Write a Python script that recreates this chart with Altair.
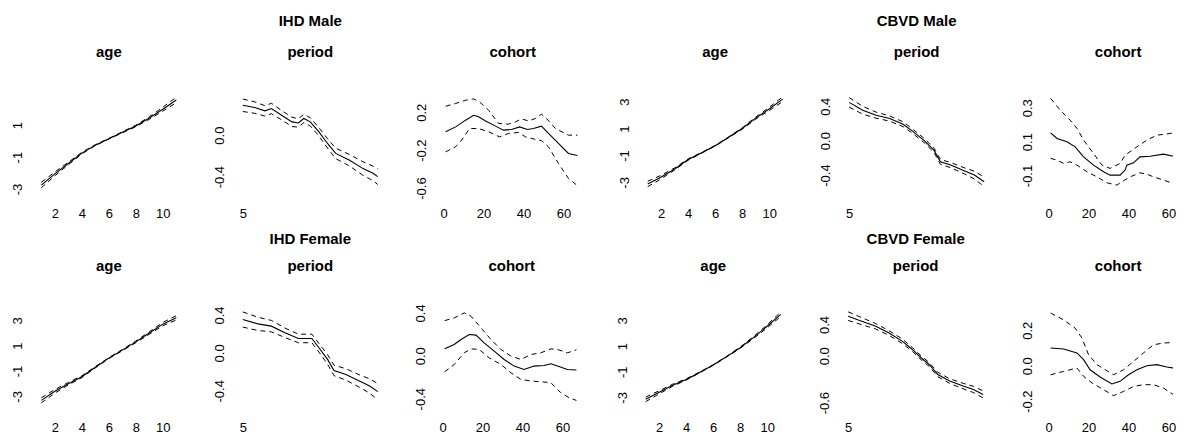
import altair as alt
import pandas as pd

FONT = "Liberation Sans"
MINUS = "replace(datum.label, '\u2212', '-')"

# ---------------- data ----------------
ages = [1, 2, 3, 4, 5, 6, 7, 8, 9, 10, 11]

# IHD Male
ihdm_age_est = [-2.75, -2.05, -1.4, -0.75, -0.25, 0.15, 0.55, 0.95, 1.45, 2.0, 2.58]
ihdm_age_hw = [0.17, 0.12, 0.08, 0.05, 0.03, 0.02, 0.03, 0.05, 0.08, 0.12, 0.17]
ihdm_per_x = [5, 7.2, 9.1, 10.3, 12.2, 14.1, 15.3, 16.3, 17.5, 19.1, 20.7, 22.2, 24.7, 27.2, 29.1, 30]
ihdm_per_est = [0.288, 0.266, 0.234, 0.257, 0.192, 0.128, 0.118, 0.161, 0.128, 0.032, -0.08, -0.176, -0.24, -0.32, -0.368, -0.40]
ihdm_per_hw = [0.06, 0.055, 0.05, 0.05, 0.045, 0.045, 0.04, 0.04, 0.04, 0.04, 0.045, 0.05, 0.055, 0.065, 0.07, 0.075]
ihdm_coh_x = [1, 6, 11, 15, 17.5, 21, 26, 30, 34, 38, 42, 45, 49, 52.5, 57.5, 62.5, 67]
ihdm_coh_est = [-0.007, 0.045, 0.116, 0.168, 0.151, 0.108, 0.053, 0.011, 0.018, 0.045, 0.018, 0.028, 0.053, -0.024, -0.129, -0.235, -0.256]
ihdm_coh_up_x = [1, 6, 11, 15, 18, 22.5, 27.5, 32.5, 36, 39, 42.5, 46, 49, 51.5, 56, 62.5, 67]
ihdm_coh_up = [0.263, 0.292, 0.326, 0.34, 0.308, 0.221, 0.081, 0.074, 0.098, 0.129, 0.108, 0.134, 0.179, 0.134, 0.028, -0.042, -0.042]
ihdm_coh_lo_x = [1, 6, 9, 13, 17.5, 22.5, 28, 32.5, 37.5, 41, 46, 49, 52.5, 57.5, 62.5, 67]
ihdm_coh_lo = [-0.218, -0.165, -0.095, 0.028, 0.028, -0.007, -0.06, -0.024, -0.014, -0.06, -0.087, -0.1, -0.165, -0.34, -0.498, -0.575]

# CBVD Male
cbvm_age_est = [-3.12, -2.6, -2.0, -1.3, -0.8, -0.28, 0.35, 1.0, 1.77, 2.45, 3.18]
cbvm_age_hw = [0.2, 0.13, 0.08, 0.05, 0.03, 0.02, 0.03, 0.05, 0.08, 0.12, 0.18]
cbvm_per_x = [5, 7.5, 10, 12.5, 15, 16.9, 18.8, 20.7, 21.9, 23.8, 26.3, 28.2, 30]
cbvm_per_est = [0.445, 0.354, 0.296, 0.257, 0.191, 0.102, 0.006, -0.11, -0.246, -0.284, -0.35, -0.4, -0.478]
cbvm_per_hw = [0.055, 0.045, 0.035, 0.03, 0.028, 0.025, 0.025, 0.025, 0.028, 0.03, 0.035, 0.045, 0.055]
cbvm_coh_x = [1, 4.2, 9.2, 13.3, 17.5, 22.5, 27.5, 30.8, 35.8, 38.3, 39.2, 42.5, 45.8, 50.8, 57.5, 62.5, 67]
cbvm_coh_est = [0.152, 0.119, 0.099, 0.069, 0.01, -0.039, -0.078, -0.098, -0.098, -0.068, -0.039, -0.025, 0.01, 0.014, 0.026, 0.014, 0.014]
cbvm_coh_up_x = [1, 5.8, 10.8, 14.2, 17.5, 22.5, 26.7, 30.8, 35.8, 38.3, 44.2, 49.2, 54.2, 60.8, 67]
cbvm_coh_up = [0.355, 0.286, 0.227, 0.178, 0.109, 0.03, -0.039, -0.058, -0.029, 0.02, 0.069, 0.109, 0.138, 0.148, 0.158]
cbvm_coh_lo_x = [1, 4.2, 7.5, 10.8, 14.2, 19.2, 24.2, 29.2, 34.2, 36.7, 40.8, 45.8, 49.2, 52.5, 57.5, 62.5, 67]
cbvm_coh_lo = [0.001, -0.009, -0.029, -0.019, -0.039, -0.078, -0.108, -0.143, -0.157, -0.137, -0.108, -0.084, -0.092, -0.108, -0.127, -0.147, -0.167]

# IHD Female
ihdf_age_est = [-3.31, -2.6, -2.0, -1.45, -0.7, 0.02, 0.65, 1.3, 2.0, 2.7, 3.2]
ihdf_age_hw = [0.2, 0.14, 0.1, 0.07, 0.05, 0.04, 0.05, 0.07, 0.1, 0.13, 0.17]
ihdf_per_x = [5, 7.8, 10.3, 12.8, 15.3, 17.8, 19.1, 20.7, 21.9, 24.1, 26.6, 28.5, 30]
ihdf_per_est = [0.352, 0.306, 0.282, 0.212, 0.152, 0.152, 0.054, -0.069, -0.185, -0.227, -0.297, -0.349, -0.409]
ihdf_per_hw = [0.08, 0.07, 0.06, 0.05, 0.045, 0.045, 0.045, 0.05, 0.055, 0.06, 0.065, 0.075, 0.085]
ihdf_coh_x = [1, 5.8, 9.2, 13.3, 16.7, 20.8, 25.8, 30.8, 35.8, 40.8, 45.8, 50.8, 54.2, 57.5, 62.5, 67]
ihdf_coh_est = [0.065, 0.105, 0.152, 0.198, 0.193, 0.121, 0.044, -0.034, -0.096, -0.127, -0.096, -0.09, -0.074, -0.096, -0.127, -0.133]
ihdf_coh_up_x = [1, 5.8, 10.8, 14.2, 19.2, 24.2, 29.2, 34.2, 39.2, 44.2, 49.2, 54.2, 57.5, 62.5, 67]
ihdf_coh_up = [0.328, 0.353, 0.4, 0.369, 0.26, 0.152, 0.059, -0.003, -0.034, 0.012, 0.028, 0.065, 0.059, 0.028, 0.056]
ihdf_coh_lo_x = [1, 5.8, 10.8, 14.2, 18.3, 23.3, 29.2, 34.2, 39.2, 44.2, 49.2, 54.2, 59.2, 63.3, 67]
ihdf_coh_lo = [-0.149, -0.081, 0.028, 0.065, 0.059, -0.019, -0.081, -0.158, -0.22, -0.235, -0.242, -0.251, -0.344, -0.391, -0.416]

# CBVD Female
cbvf_age_est = [-3.15, -2.6, -2.05, -1.6, -1.05, -0.47, 0.18, 0.88, 1.68, 2.55, 3.48]
cbvf_age_hw = [0.18, 0.12, 0.08, 0.05, 0.03, 0.02, 0.03, 0.05, 0.08, 0.12, 0.17]
cbvf_per_x = [5, 7.5, 10, 12.5, 15, 16.9, 18.5, 20, 21.6, 23.8, 26.3, 28.2, 30]
cbvf_per_est = [0.507, 0.443, 0.38, 0.294, 0.188, 0.081, -0.025, -0.111, -0.239, -0.323, -0.387, -0.43, -0.494]
cbvf_per_hw = [0.055, 0.045, 0.035, 0.03, 0.028, 0.025, 0.025, 0.025, 0.028, 0.03, 0.035, 0.04, 0.045]
cbvf_coh_x = [1, 7.5, 14.2, 17.5, 20.8, 25.8, 31.7, 35.8, 40, 44.2, 49.2, 54.2, 59.2, 65.8, 67]
cbvf_coh_est = [0.1, 0.094, 0.072, 0.034, -0.023, -0.064, -0.103, -0.088, -0.051, -0.023, 0.0, 0.006, -0.007, -0.019, -0.02]
cbvf_coh_up_x = [1, 7.5, 13.3, 16.7, 20, 24.2, 32.5, 37.5, 42.5, 47.5, 52.5, 57.5, 62.5, 67]
cbvf_coh_up = [0.297, 0.259, 0.212, 0.156, 0.062, 0.006, -0.051, -0.023, 0.024, 0.072, 0.118, 0.128, 0.131, 0.15]
cbvf_coh_lo_x = [1, 7.5, 14.2, 17.5, 21.7, 27.5, 32.5, 37.5, 42.5, 47.5, 52.5, 57.5, 62.5, 67]
cbvf_coh_lo = [-0.051, -0.032, -0.013, -0.06, -0.097, -0.135, -0.169, -0.145, -0.117, -0.107, -0.107, -0.126, -0.163, -0.2]

# tick labels
age_ticks = [2, 4, 6, 8, 10]
per_ticks = [5]
coh_ticks = [0, 20, 40, 60]

# ---------------- layout ----------------
PW, PH = 146, 95
AGE_DOM = [0.6, 11.4]
PER_DOM = [4, 31]
COH_DOM = [-1.9, 71.1]
W6 = 128                      # last column is cut at the page edge, as in the reference
COH_DOM6 = [-1.7, 62.3]
TITLE_Y = -38


def frame(xs, ys, kind):
    return pd.DataFrame({"x": xs, "y": ys, "kind": kind})


def band(xs, est, hw):
    up = [round(e + h, 4) for e, h in zip(est, hw)]
    lo = [round(e - h, 4) for e, h in zip(est, hw)]
    return xs, up, xs, lo


def text_layer(s, y):
    return alt.Chart(pd.DataFrame({"t": [s]})).mark_text(
        font=FONT, fontSize=15, fontWeight="bold", color="black",
        align="center", baseline="alphabetic"
    ).encode(text="t:N", x=alt.value(PW / 2), y=alt.value(y))


def panel(ex, ey, ux, uy, lx, ly, xdom, ydom, xticks, yticks, yfmt,
          title, group=None, group_y=-69, width=PW):
    df = pd.concat([frame(ex, ey, "est"), frame(ux, uy, "upper"),
                    frame(lx, ly, "lower")], ignore_index=True)
    xenc = alt.X("x:Q", scale=alt.Scale(domain=xdom, nice=False, zero=False),
                 axis=alt.Axis(values=xticks, format="d", title=None, domain=False,
                               ticks=False, tickSize=0, grid=False, labelPadding=17,
                               labelFlush=False, labelOverlap=False, labelExpr=MINUS))
    yenc = alt.Y("y:Q", scale=alt.Scale(domain=ydom, nice=False, zero=False),
                 axis=alt.Axis(values=yticks, format=yfmt, title=None, domain=False,
                               ticks=False, tickSize=0, grid=False, labelAngle=270,
                               labelAlign="center", labelBaseline="alphabetic",
                               labelPadding=14, labelFlush=False, labelOverlap=False,
                               labelExpr=MINUS))
    base = alt.Chart(df).encode(x=xenc, y=yenc)
    dashed = base.transform_filter("datum.kind != 'est'").mark_line(
        color="black", strokeWidth=1, strokeDash=[5, 4], clip=True
    ).encode(detail="kind:N")
    solid = base.transform_filter("datum.kind == 'est'").mark_line(
        color="black", strokeWidth=1.1, clip=True)
    layers = [dashed, solid, text_layer(title, TITLE_Y)]
    if group:
        layers.append(text_layer(group, group_y))
    return alt.layer(*layers).properties(width=width, height=PH)


p = []
# row 1
p.append(panel(ages, ihdm_age_est, *band(ages, ihdm_age_est, ihdm_age_hw), AGE_DOM,
               [-3.0625, 2.875], age_ticks, [-3, -1, 1, 3], "d", "age"))
p.append(panel(ihdm_per_x, ihdm_per_est, *band(ihdm_per_x, ihdm_per_est, ihdm_per_hw), PER_DOM,
               [-0.529, 0.385], per_ticks, [-0.4, 0.0, 0.4], ".1f", "period", "IHD Male", -69))
p.append(panel(ihdm_coh_x, ihdm_coh_est, ihdm_coh_up_x, ihdm_coh_up, ihdm_coh_lo_x, ihdm_coh_lo,
               COH_DOM, [-0.621, 0.379], coh_ticks, [-0.6, -0.2, 0.2], ".1f", "cohort"))
p.append(panel(ages, cbvm_age_est, *band(ages, cbvm_age_est, cbvm_age_hw), AGE_DOM,
               [-3.569, 3.473], age_ticks, [-3, -1, 1, 3], "d", "age"))
p.append(panel(cbvm_per_x, cbvm_per_est, *band(cbvm_per_x, cbvm_per_est, cbvm_per_hw), PER_DOM,
               [-0.574, 0.528], per_ticks, [-0.4, 0.0, 0.4], ".1f", "period", "CBVD Male", -69))
p.append(panel(cbvm_coh_x, cbvm_coh_est, cbvm_coh_up_x, cbvm_coh_up, cbvm_coh_lo_x, cbvm_coh_lo,
               COH_DOM6, [-0.186, 0.374], coh_ticks, [-0.1, 0.1, 0.3], ".1f", "cohort", width=W6))
# row 2
p.append(panel(ages, ihdf_age_est, *band(ages, ihdf_age_est, ihdf_age_hw), AGE_DOM,
               [-3.614, 3.866], age_ticks, [-3, -1, 1, 3], "d", "age"))
p.append(panel(ihdf_per_x, ihdf_per_est, *band(ihdf_per_x, ihdf_per_est, ihdf_per_hw), PER_DOM,
               [-0.541, 0.459], per_ticks, [-0.4, 0.0, 0.4], ".1f", "period", "IHD Female", -65.5))
p.append(panel(ihdf_coh_x, ihdf_coh_est, ihdf_coh_up_x, ihdf_coh_up, ihdf_coh_lo_x, ihdf_coh_lo,
               COH_DOM, [-0.451, 0.433], coh_ticks, [-0.4, 0.0, 0.4], ".1f", "cohort"))
p.append(panel(ages, cbvf_age_est, *band(ages, cbvf_age_est, cbvf_age_hw), AGE_DOM,
               [-3.528, 3.871], age_ticks, [-3, -1, 1, 3], "d", "age"))
p.append(panel(cbvf_per_x, cbvf_per_est, *band(cbvf_per_x, cbvf_per_est, cbvf_per_hw), PER_DOM,
               [-0.619, 0.594], per_ticks, [-0.6, 0.0, 0.4], ".1f", "period", "CBVD Female", -65.5))
p.append(panel(cbvf_coh_x, cbvf_coh_est, cbvf_coh_up_x, cbvf_coh_up, cbvf_coh_lo_x, cbvf_coh_lo,
               COH_DOM6, [-0.217, 0.318], coh_ticks, [-0.2, 0.0, 0.2], ".1f", "cohort", width=W6))

row1 = alt.hconcat(*p[:6], spacing=31.8)
row2 = alt.hconcat(*p[6:], spacing=31.8)

chart = alt.vconcat(row1, row2, spacing=11.5).properties(
    padding={"left": 4, "top": 6, "right": 0, "bottom": 0},
    background="white",
).configure_view(stroke=None).configure_axis(
    labelFont=FONT, labelFontSize=13, labelColor="black"
)

chart.save("out.html", embed_options={"renderer": "svg", "actions": False})
